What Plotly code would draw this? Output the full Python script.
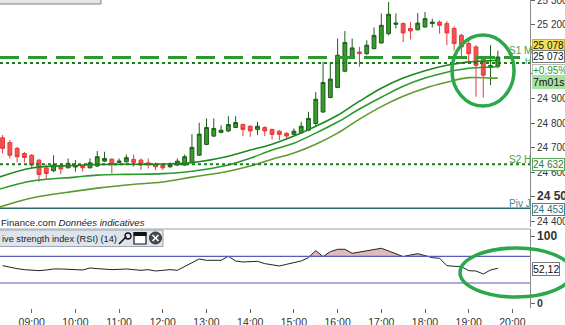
import numpy as np
import plotly.graph_objects as go

DAY = "2024-01-15 "

candle_times = ["08:20", "08:30", "08:40", "08:50",
                "09:00", "09:10", "09:20", "09:30", "09:40", "09:50",
                "10:00", "10:10", "10:20", "10:30", "10:40", "10:50",
                "11:00", "11:10", "11:20", "11:30", "11:40", "11:50",
                "12:00", "12:10", "12:20", "12:30", "12:40", "12:50",
                "13:00", "13:10", "13:20", "13:30", "13:40", "13:50",
                "14:00", "14:10", "14:20", "14:30", "14:40", "14:50",
                "15:00", "15:10", "15:20", "15:30", "15:40", "15:50",
                "16:00", "16:10", "16:20", "16:30", "16:40", "16:50",
                "17:00", "17:10", "17:20", "17:30", "17:40", "17:50",
                "18:00", "18:10", "18:20", "18:30", "18:40", "18:50",
                "19:00", "19:10", "19:20", "19:30", "19:40"]

opens = [24740, 24721, 24697, 24676,
         24669, 24649, 24617, 24606, 24626, 24618,
         24621, 24626, 24618, 24625, 24645, 24653,
         24640, 24642, 24652, 24649, 24638, 24632,
         24629, 24622, 24629, 24629, 24641, 24669,
         24713, 24747, 24762, 24768, 24782, 24794,
         24787, 24774, 24782, 24774, 24767, 24758,
         24754, 24760, 24771, 24798, 24845, 24904,
         24945, 25011, 25067, 25089, 25083, 25103,
         25126, 25164, 25202, 25205, 25185, 25180,
         25191, 25205, 25211, 25205, 25185, 25157,
         25124, 25110, 25063, 25027, 25031]
highs = [24751, 24731, 24703, 24682,
         24674, 24653, 24632, 24669, 24629, 24656,
         24649, 24632, 24656, 24686, 24683, 24656,
         24656, 24672, 24672, 24656, 24656, 24640,
         24633, 24640, 24656, 24672, 24755, 24801,
         24819, 24819, 24791, 24828, 24828, 24798,
         24791, 24805, 24787, 24777, 24771, 24764,
         24778, 24805, 24846, 24927, 25049, 25049,
         25144, 25175, 25144, 25110, 25137, 25189,
         25246, 25293, 25246, 25210, 25211, 25248,
         25252, 25225, 25218, 25215, 25194, 25164,
         25137, 25117, 25069, 25117, 25094]
lows = [24676, 24656, 24640, 24640,
        24615, 24561, 24568, 24600, 24592, 24615,
        24602, 24602, 24615, 24621, 24641, 24595,
        24636, 24640, 24622, 24609, 24615, 24609,
        24609, 24618, 24625, 24625, 24637, 24666,
        24710, 24743, 24759, 24763, 24779, 24747,
        24744, 24751, 24747, 24733, 24731, 24733,
        24751, 24758, 24767, 24784, 24842, 24901,
        24942, 25007, 25064, 25029, 25076, 25100,
        25124, 25157, 25185, 25130, 25140, 25178,
        25189, 25189, 25164, 25117, 25096, 25072,
        25044, 24907, 24904, 24954, 25023]
closes = [24697, 24669, 24663, 24660,
          24629, 24591, 24595, 24629, 24613, 24636,
          24627, 24618, 24638, 24663, 24656, 24633,
          24645, 24659, 24640, 24629, 24629, 24622,
          24618, 24632, 24645, 24663, 24701, 24755,
          24782, 24778, 24771, 24794, 24802, 24774,
          24768, 24787, 24768, 24754, 24754, 24747,
          24767, 24787, 24819, 24897, 24965, 24979,
          25076, 25128, 25106, 25083, 25117, 25157,
          25198, 25243, 25207, 25167, 25175, 25207,
          25225, 25211, 25198, 25167, 25124, 25110,
          25083, 25035, 24995, 25034, 25069]

rsi = [56, 53.5, 51.5, 50,
       49, 48.5, 49.5, 51, 51, 51,
       50, 49.5, 52.5, 51.5, 50.5, 50,
       50.5, 51, 50, 49, 50, 48,
       49, 50, 49, 54.5, 60, 66,
       64, 64, 64, 70, 63, 61.5,
       62, 62.5, 59, 57, 55.5, 58,
       60, 63, 68, 78.5, 69.5, 77,
       80.5, 80.5, 74.5, 76.5, 78, 80,
       82, 78, 74, 69.5, 72, 74,
       71, 68, 67, 56, 55, 54.5,
       48.5, 48, 43.5, 49.5, 52.1]

ma_times = ["08:16", "09:00", "10:00", "10:30", "11:10", "12:00", "12:40",
            "13:30", "14:00", "14:30", "15:00", "15:30", "16:00", "16:30",
            "17:00", "17:30", "18:00", "18:30", "19:00", "19:30", "19:40"]
ma_fast = [24580, 24617, 24627, 24631, 24632, 24633, 24639,
           24665, 24690, 24714, 24747, 24787, 24832, 24889,
           24942, 24983, 25013, 25035, 25049, 25054, 25056]
ma_mid = [24531, 24564, 24580, 24588, 24591, 24594, 24604,
          24629, 24657, 24690, 24718, 24759, 24804, 24857,
          24905, 24950, 24983, 25007, 25023, 25028, 25029]
ma_slow = [24458, 24495, 24523, 24535, 24548, 24560, 24580,
           24604, 24625, 24653, 24678, 24714, 24759, 24816,
           24867, 24909, 24942, 24966, 24985, 24983, 24983]

level_s1m = 25067
level_h = 25045
level_s2h = 24632
level_pivj = 24453
rsi_high, rsi_low = 70, 30

price_ticks = [24400, 24500, 24600, 24700, 24800, 24900, 25000, 25100, 25200, 25300]
price_ticktext = ["24 400", "<b><span style='font-size:12px'>24 500</span></b>", "24 600",
                  "24 700", "24 800", "24 900", "", "", "25 200", "25 300"]
rsi_ticks = [0, 100]
rsi_ticktext = ["<b>0</b>", "<b><span style='font-size:12px'>100</span></b>"]

# ---------------------------------------------------------------- figure
W, H = 565, 325
ML, MR, MT, MB = 0, 35, 0, 17
PW, PH = W - ML - MR, H - MT - MB


def px(x):
    return x / PW


def py(y):
    return 1 - y / PH


X = [DAY + t for t in candle_times]
XM = [DAY + t for t in ma_times]

fig = go.Figure()

fig.add_trace(go.Candlestick(
    x=X, open=opens, high=highs, low=lows, close=closes,
    increasing=dict(line=dict(color="#1d5e1d", width=1), fillcolor="#3a9a2c"),
    decreasing=dict(line=dict(color="#e53a3a", width=1), fillcolor="#f45252"),
    whiskerwidth=0, xaxis="x", yaxis="y", showlegend=False, hoverinfo="skip"))

for vals, col, w in [(ma_slow, "#5e9b2e", 1.6), (ma_mid, "#2a9a2a", 1.6), (ma_fast, "#1c8a1c", 1.6)]:
    fig.add_trace(go.Scatter(x=XM, y=vals, mode="lines", line=dict(color=col, width=w, shape="spline"),
                             xaxis="x", yaxis="y", showlegend=False, hoverinfo="skip"))

# RSI fill above 70
fig.add_trace(go.Scatter(x=X, y=[rsi_high] * len(X), mode="lines", line=dict(width=0),
                         xaxis="x", yaxis="y2", showlegend=False, hoverinfo="skip"))
fig.add_trace(go.Scatter(x=X, y=list(np.maximum(np.array(rsi), rsi_high)), mode="lines",
                         line=dict(width=0), fill="tonexty", fillcolor="rgba(196,130,130,0.55)",
                         xaxis="x", yaxis="y2", showlegend=False, hoverinfo="skip"))
fig.add_trace(go.Scatter(x=X, y=rsi, mode="lines", line=dict(color="#222222", width=1),
                         xaxis="x", yaxis="y2", showlegend=False, hoverinfo="skip"))

shapes = []
# horizontal levels
shapes.append(dict(type="line", xref="paper", yref="y", x0=0, x1=px(520), y0=level_s1m, y1=level_s1m,
                   line=dict(color="#2e9a2e", width=3, dash="19px,9px")))
shapes.append(dict(type="line", xref="paper", yref="y", x0=0, x1=1, y0=level_h, y1=level_h,
                   line=dict(color="#1e7a1e", width=2, dash="3px,3px")))
shapes.append(dict(type="line", xref="paper", yref="y", x0=0, x1=1, y0=level_s2h, y1=level_s2h,
                   line=dict(color="#1e7a1e", width=2, dash="3px,3px")))
shapes.append(dict(type="line", xref="paper", yref="y", x0=0, x1=1, y0=level_pivj, y1=level_pivj,
                   line=dict(color="#2a6a6a", width=1.5)))
for lv in (rsi_high, rsi_low):
    shapes.append(dict(type="line", xref="paper", yref="y2", x0=0, x1=1, y0=lv, y1=lv,
                       line=dict(color="#5a5ab8", width=1.2)))
# RSI pane top border
shapes.append(dict(type="line", xref="paper", yref="paper", x0=0, x1=1, y0=py(229), y1=py(229),
                   line=dict(color="#a0a0a0", width=1)))
# top-left toolbar stub
shapes.append(dict(type="rect", xref="paper", yref="paper", x0=px(-2), x1=px(101), y0=py(4), y1=py(-2),
                   fillcolor="#e6e6e6", line=dict(color="#808080", width=1)))
# RSI header box
shapes.append(dict(type="rect", xref="paper", yref="paper", x0=px(-2), x1=px(163), y0=py(246.5), y1=py(230),
                   fillcolor="#dde4ec", line=dict(color="#9aa6b4", width=1)))
# window icon
shapes.append(dict(type="rect", xref="paper", yref="paper", x0=px(134), x1=px(146), y0=py(244), y1=py(232.5),
                   fillcolor="white", line=dict(color="#111111", width=1.2)))
shapes.append(dict(type="rect", xref="paper", yref="paper", x0=px(134), x1=px(146), y0=py(235.5), y1=py(232.5),
                   fillcolor="#111111", line=dict(color="#111111", width=1)))
# close icon
shapes.append(dict(type="circle", xref="paper", yref="paper", x0=px(149.5), x1=px(161.5), y0=py(244), y1=py(232),
                   fillcolor="#4a4a4a", line=dict(color="#333333", width=1)))
for (a, b, c, d) in [(152.5, 235, 158.5, 241), (152.5, 241, 158.5, 235)]:
    shapes.append(dict(type="line", xref="paper", yref="paper", x0=px(a), x1=px(c), y0=py(b), y1=py(d),
                       line=dict(color="white", width=1.6)))
# wrench icon
shapes.append(dict(type="line", xref="paper", yref="paper", x0=px(119), x1=px(126.5), y0=py(244), y1=py(236.5),
                   line=dict(color="#111111", width=1.6)))
shapes.append(dict(type="circle", xref="paper", yref="paper", x0=px(125), x1=px(131), y0=py(239), y1=py(233),
                   fillcolor="rgba(0,0,0,0)", line=dict(color="#111111", width=1.3)))
# green ellipses
shapes.append(dict(type="circle", xref="paper", yref="paper", x0=px(452), x1=px(514), y0=py(106), y1=py(35),
                   line=dict(color="#2aa84a", width=3.5)))
shapes.append(dict(type="circle", xref="paper", yref="paper", x0=px(460), x1=px(572), y0=py(297), y1=py(248),
                   line=dict(color="#2aa84a", width=3.5)))

FONT = "Liberation Sans, Arial, sans-serif"
ann = []


def box(text, y, bg="white", border="#888888", color="#111111", size=10):
    ann.append(dict(xref="paper", yref="paper", x=px(531.5), y=py(y), xanchor="left", yanchor="middle",
                    text=text, showarrow=False, bgcolor=bg, bordercolor=border, borderwidth=1,
                    borderpad=0, font=dict(family=FONT, size=size, color=color)))


box("25 078", 45.5, bg="#f3df58", border="#c8b040")
box("25 073", 57, bg="white", border="#7a7a7a")
box("+0,95%", 70.5, bg="white", border="#bbbbbb", color="#2a9a2a")
box("7m01s", 82.5, bg="#a6e3a0", border="#a6e3a0", size=10.5)
box("24 632", 164.5, bg="white", border="#5aa85a", color="#2e7d2e")
box("24 453", 209.5, bg="white", border="#3a8a8a", color="#2a6e7a")
box("52,12", 269, bg="white", border="#7a7a7a", size=10.5)


def label(text, x, y, color, size=10):
    ann.append(dict(xref="paper", yref="paper", x=px(x), y=py(y), xanchor="left", yanchor="middle",
                    text=text, showarrow=False, font=dict(family=FONT, size=size, color=color)))


label("S1 M", 507, 50, "#4a9e4a")
label("H", 523, 61, "#4a9e4a", 9)
label("S2 H", 507, 159.5, "#4a9e4a")
label("Piv J", 507, 203.5, "#3b8a9a")
label("Finance.com <i>Données indicatives</i>", -1, 222.5, "#222222", 9.6)
label("ive strength index (RSI) (14)", -0.5, 238.5, "#222222", 9.2)

fig.update_layout(
    width=W, height=H, margin=dict(l=ML, r=MR, t=MT, b=MB, autoexpand=False),
    paper_bgcolor="white", plot_bgcolor="white", showlegend=False, boxgap=0.25,
    shapes=shapes, annotations=ann,
    xaxis=dict(type="date", range=[DAY + "08:16:28", DAY + "20:24:09"], anchor="y2",
               tickformat="%H:%M", dtick=3600000, tick0=DAY + "09:00",
               ticks="outside", ticklen=4, tickcolor="#666666", automargin=False,
               tickfont=dict(family=FONT, size=10.5, color="#333333"),
               showgrid=False, zeroline=False, showline=False,
               rangeslider=dict(visible=False), fixedrange=True),
    yaxis=dict(domain=[1 - 227 / PH, 1], range=[24376.8, 25301], side="right", anchor="x",
               tickvals=price_ticks, ticktext=price_ticktext, ticks="outside", ticklen=4,
               ticklabeloverflow="allow", automargin=False,
               tickcolor="#666666", showline=True, linecolor="#8a8a8a", linewidth=1,
               showgrid=False, zeroline=False, tickfont=dict(family=FONT, size=10, color="#333333")),
    yaxis2=dict(domain=[0, 79 / PH], range=[-7.45, 110.9], side="right", anchor="x",
                tickvals=rsi_ticks, ticktext=rsi_ticktext, ticks="outside", ticklen=4,
                automargin=False,
                tickcolor="#666666", showline=True, linecolor="#8a8a8a", linewidth=1,
                showgrid=False, zeroline=False, tickfont=dict(family=FONT, size=10.5, color="#333333")),
)

fig.write_html("out.html")
